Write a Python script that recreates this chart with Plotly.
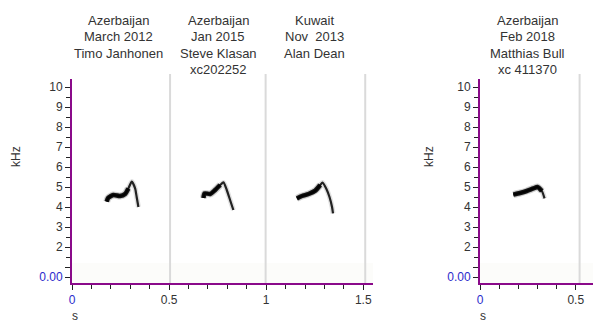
import plotly.graph_objects as go

# ---------------- data ----------------
panel_titles_left = [
    ["Azerbaijan", "March 2012", "Timo Janhonen"],
    ["Azerbaijan", "Jan 2015", "Steve Klasan", "xc202252"],
    ["Kuwait", "Nov  2013", "Alan Dean"],
]
panel_title_right = ["Azerbaijan", "Feb 2018", "Matthias Bull", "xc 411370"]

# call contours (time s, frequency kHz)
call1_t = [0.179, 0.186, 0.213, 0.247, 0.273, 0.290, 0.308, 0.325, 0.333, 0.342]
call1_f = [4.27, 4.45, 4.60, 4.55, 4.65, 4.93, 5.27, 4.93, 4.50, 4.00]
call2_t = [0.677, 0.683, 0.711, 0.737, 0.763, 0.780, 0.797, 0.814, 0.831]
call2_f = [4.45, 4.68, 4.65, 4.85, 5.10, 5.23, 4.85, 4.35, 3.85]
call3_t = [1.158, 1.184, 1.218, 1.253, 1.278, 1.290, 1.309, 1.326, 1.339, 1.344]
call3_f = [4.43, 4.55, 4.65, 4.82, 5.10, 5.22, 4.93, 4.50, 4.00, 3.68]
call4_t = [0.174, 0.209, 0.244, 0.279, 0.300, 0.323, 0.337]
call4_f = [4.62, 4.70, 4.80, 4.93, 5.00, 4.80, 4.43]

# number of points in the loud (thick) part of each call
call1_body = 6
call2_body = 5
call3_body = 5
call4_body = 6

left_separators = [0.505, 0.997, 1.51]
right_separators = [0.52]

x_ticks_left = [0, 0.5, 1, 1.5]
x_ticks_right = [0, 0.5]
y_ticks = [0.5, 1, 2, 3, 4, 5, 6, 7, 8, 9, 10]
y_ticktext = ['<span style="color:#2b2bcc">0.00</span>', ""] + [str(v) for v in range(2, 11)]

# ---------------- figure ----------------
W, H = 610, 329
FONT = "Liberation Sans, Arial, sans-serif"
PURPLE = "#8a0a8a"
TXT = "#333333"

fig = go.Figure()


def add_call(t, f, body, xa, ya):
    layers = [
        (t, f, 5, "rgba(0,0,0,0.12)"),
        (t, f, 2.2, "rgba(0,0,0,0.85)"),
        (t[:body], f[:body], 7, "rgba(0,0,0,0.18)"),
        (t[:body], f[:body], 4.5, "rgba(0,0,0,0.9)"),
    ]
    for xs, ys, w, c in layers:
        fig.add_trace(go.Scatter(
            x=xs, y=ys, mode="lines", xaxis=xa, yaxis=ya,
            line=dict(color=c, width=w, shape="spline", smoothing=0.6),
            hoverinfo="skip", showlegend=False))


add_call(call1_t, call1_f, call1_body, "x", "y")
add_call(call2_t, call2_f, call2_body, "x", "y")
add_call(call3_t, call3_f, call3_body, "x", "y")
add_call(call4_t, call4_f, call4_body, "x2", "y2")

ydom = [1 - 283 / H, 1 - 79 / H]


def xaxis_cfg(dom, rng, ticks):
    txt = ['<span style="color:#2b2bcc">0</span>'] + [
        ("%g" % v) for v in ticks[1:]]
    return dict(
        domain=dom, range=rng, showline=True, linecolor=PURPLE, linewidth=2,
        ticks="outside", ticklen=5, tickcolor="#222", tickwidth=1,
        tickvals=ticks, ticktext=txt, showgrid=False, zeroline=False,
        automargin=False,
        tickfont=dict(family=FONT, size=12, color=TXT),
        minor=dict(dtick=0.1, tick0=0, ticks="outside", ticklen=4,
                   tickcolor="#222", showgrid=False),
        fixedrange=True)


def yaxis_cfg(anchor):
    return dict(
        domain=ydom, range=[0.2, 10.4], anchor=anchor, showline=True,
        linecolor=PURPLE, linewidth=2, ticks="outside", ticklen=5,
        tickcolor="#222", tickwidth=1, tickvals=y_ticks, ticktext=y_ticktext,
        showgrid=False, zeroline=False, automargin=False,
        tickfont=dict(family=FONT, size=12, color=TXT),
        minor=dict(dtick=0.5, tick0=0, ticks="outside", ticklen=4,
                   tickcolor="#222", showgrid=False),
        fixedrange=True)


fig.update_layout(
    width=W, height=H, margin=dict(l=0, r=0, t=0, b=0, autoexpand=False),
    paper_bgcolor="white", plot_bgcolor="white",
    xaxis=dict(**xaxis_cfg([72 / W, 373 / W], [0, 1.55], x_ticks_left), anchor="y"),
    yaxis=yaxis_cfg("x"),
    xaxis2=dict(**xaxis_cfg([480 / W, 593 / W], [0, 0.59], x_ticks_right), anchor="y2"),
    yaxis2=yaxis_cfg("x2"),
    font=dict(family=FONT, color=TXT),
)

shapes = []
# faint low-frequency band
for xr, yr in (("x", "y"), ("x2", "y2")):
    shapes.append(dict(type="rect", xref=xr + " domain", yref=yr, x0=0, x1=1,
                       y0=0.2, y1=1.2, fillcolor="#fcfcfa", line=dict(width=0),
                       layer="below"))
for s in left_separators:
    shapes.append(dict(type="line", xref="x", yref="paper", x0=s, x1=s,
                       y0=ydom[0], y1=1 - 74 / H,
                       line=dict(color="#dadada", width=2), layer="below"))
for s in right_separators:
    shapes.append(dict(type="line", xref="x2", yref="paper", x0=s, x1=s,
                       y0=ydom[0], y1=1 - 74 / H,
                       line=dict(color="#dadada", width=2), layer="below"))
fig.update_layout(shapes=shapes)

ann = []


def title_block(lines, cx):
    for i, s in enumerate(lines):
        ypx = 21 + i * 16
        ann.append(dict(text=s, xref="paper", yref="paper", x=cx / W,
                        y=1 - ypx / H, xanchor="center", yanchor="middle",
                        showarrow=False,
                        font=dict(family=FONT, size=13, color=TXT)))


title_block(panel_titles_left[0], 118)
title_block(panel_titles_left[1], 218)
title_block(panel_titles_left[2], 314)
title_block(panel_title_right, 527)

for cx in (16, 429):
    ann.append(dict(text="kHz", xref="paper", yref="paper", x=cx / W,
                    y=1 - 157 / H, textangle=-90, xanchor="center",
                    yanchor="middle", showarrow=False,
                    font=dict(family=FONT, size=12, color=TXT)))
for cx in (75, 483):
    ann.append(dict(text="s", xref="paper", yref="paper", x=cx / W,
                    y=1 - 316 / H, xanchor="center", yanchor="middle",
                    showarrow=False,
                    font=dict(family=FONT, size=12, color=TXT)))
fig.update_layout(annotations=ann)

fig.write_html(
    "out.html",
    config={"displayModeBar": False, "staticPlot": True},
    post_script="document.body.style.margin='0';document.body.style.overflow='hidden';",
)
